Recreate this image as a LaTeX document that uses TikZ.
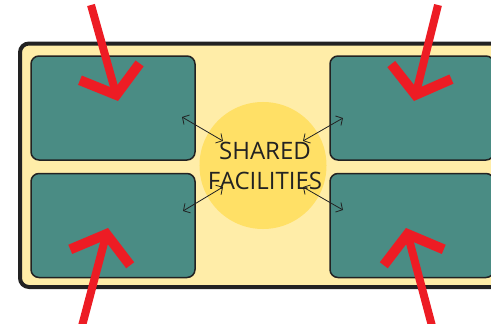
\documentclass[tikz,border=0pt]{standalone}
\usepackage{fontspec}
\usetikzlibrary{arrows.meta}
\newfontfamily\plainsans{Open Sans}

\definecolor{ink}{HTML}{222222}
\definecolor{floorbg}{HTML}{FFEDA8}
\definecolor{hub}{HTML}{FFE066}
\definecolor{roomteal}{HTML}{4A8C84}
\definecolor{alert}{HTML}{ED1C24}

\tikzset{
  room/.style={draw=ink, line width=1.5pt, fill=roomteal, rounded corners=8pt,
    minimum width=164pt, minimum height=104pt, inner sep=0pt},
  link/.style={draw=ink, line width=0.8pt, >={Straight Barb[length=5pt,width=11pt]}, <->},
  inflow/.style={draw=alert, line width=8pt,
    -{Straight Barb[length=24pt,width=62pt,line width=10pt]}}
}

\begin{document}
\begin{tikzpicture}[x=1pt,y=-1pt]
  \useasboundingbox (0,0) rectangle (491,324);
  \begin{scope}
    \clip (0,0) rectangle (491,324);
    % floor plate, runs past the right edge
    \draw[ink, line width=4pt, fill=floorbg, rounded corners=9pt] (20,43.5) rectangle (505,287);

    \node[circle, fill=hub, minimum size=126pt, inner sep=0pt, align=center,
      text=ink, font=\plainsans\fontsize{24}{30}\selectfont] (shared) at (263,165.5)
      {\hspace*{4pt}SHARED\\\hspace*{4pt}FACILITIES};

    \node[room] (roomA) at (113,108) {};
    \node[room] (roomB) at (113,225.5) {};
    \node[room] (roomC) at (412,108) {};
    \node[room] (roomD) at (412,225.5) {};

    % ends of the small links
    \coordinate (a1) at (182,117);  \coordinate (a2) at (223,141);
    \coordinate (b1) at (183,211);  \coordinate (b2) at (223,187);
    \coordinate (c1) at (343,118);  \coordinate (c2) at (303,141);
    \coordinate (d1) at (343,210);  \coordinate (d2) at (303,187);
    \draw[link] (a1) -- (a2);
    \draw[link] (b1) -- (b2);
    \draw[link] (c1) -- (c2);
    \draw[link] (d1) -- (d2);

    % red arrows into the rooms
    \coordinate (inA) at (91,5);    \coordinate (tipA) at (118,101);
    \coordinate (inB) at (82,326);  \coordinate (tipB) at (108,228);
    \coordinate (inC) at (438,5);   \coordinate (tipC) at (414,101);
    \coordinate (inD) at (432,326); \coordinate (tipD) at (406,228);
    \draw[inflow] (inA) -- (tipA);
    \draw[inflow] (inB) -- (tipB);
    \draw[inflow] (inC) -- (tipC);
    \draw[inflow] (inD) -- (tipD);
  \end{scope}
\end{tikzpicture}
\end{document}
